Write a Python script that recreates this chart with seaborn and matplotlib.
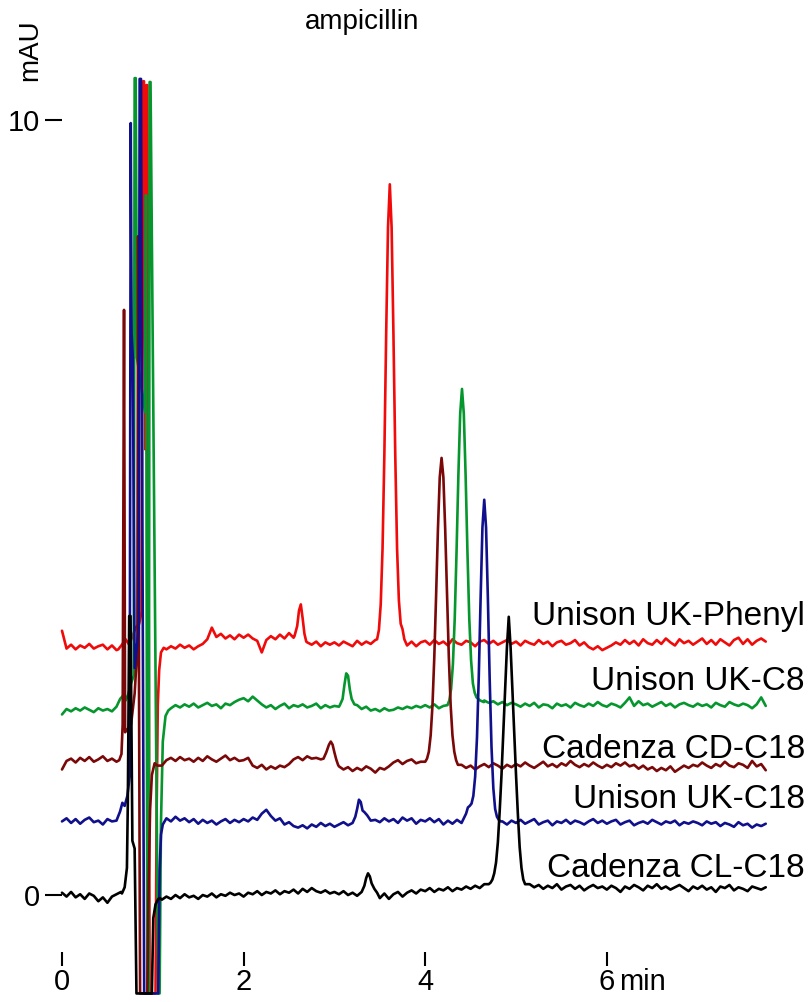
import numpy as np
import pandas as pd
import matplotlib
matplotlib.use("Agg")
import matplotlib.pyplot as plt
import seaborn as sns

# chromatogram sampling (min) - every trace shares this grid
TIME_STEP = 0.05
N_SAMPLES = 156

columns = ["Unison UK-Phenyl", "Unison UK-C8", "Cadenza CD-C18", "Unison UK-C18", "Cadenza CL-C18"]
colors = ["#f00a0a", "#05962d", "#7a0808", "#10108c", "#000000"]
offsets = [3.25, 2.43, 1.70, 0.93, 0.0]   # stacked baseline of each trace, mAU

# baseline readings, hundredths of mAU above the trace offset, one per 0.05 min
noise_phenyl = [
    16, -7, -2, -8, -3, -6, -1, -7, -4, -2, -8, -3, -9, -5, 0, 0, 0, 0, 0, 0,
    0, 0, 0, -8, -4, -7, -2, -6, -3, -8, -4, -1, 5, 20, 8, 12, 6, 10, 5, 11,
    7, 11, 6, 3, -12, 4, 9, 5, 11, 6, 13, 7, 0, 0, 1, -2, 2, -4, 1, -2,
    1, -3, 2, -1, -4, 3, -2, 2, -1, 4, 0, 0, 0, 0, 0, 0, -3, 2, -4, 1,
    3, -2, 4, -1, 2, -3, 5, 0, -2, 3, 1, -4, 2, 4, -1, 3, -2, 1, 4, -1,
    2, -3, 3, 0, -2, 4, -1, 2, -4, 1, 3, -2, 0, 4, -3, 1, -5, -8, -4, -9,
    -6, -3, 1, -2, 4, -1, 3, -3, 5, 0, -2, 4, -1, 6, 1, -3, 5, 0, 3, -2,
    2, 6, -1, 4, -2, 5, 1, -3, 4, 7, -1, 5, -2, 3, 6, 2]
noise_c8 = [
    -10, -3, -6, -2, -5, -1, -4, -7, -2, -5, -3, -6, 0, 0, 0, 0, 0, 0, 0, 0,
    0, 0, 0, 0, -2, 2, -1, 3, 0, 4, -1, 2, 5, 1, 3, -2, 4, 2, 6, 9,
    11, 7, 13, 8, 3, -1, 2, -3, 1, 4, -2, 2, 0, 3, -1, 1, 4, -2, 2, -1,
    1, 0, 0, 0, 0, 2, -3, 0, -5, -3, -6, -2, -5, -4, -1, -3, 0, -2, 1, -1,
    2, -1, 3, -2, 1, 0, 0, 0, 0, 0, 0, 0, 0, 8, 5, 7, 3, 6, 2, 5,
    3, 0, 4, 1, 5, -1, 3, 2, -2, 4, 1, 3, -1, 5, 2, 0, 4, 1, 6, 2,
    0, 4, 2, -1, 5, 12, 1, 7, 2, 4, 0, 3, 6, 1, 4, -1, 3, 5, 2, 0,
    4, 1, 3, -1, 5, 2, 0, 6, 3, 1, 4, 2, -2, 3, 12, 1]
noise_cd_c18 = [
    -8, 3, 6, 1, 7, 3, 8, 2, 5, 9, 3, 6, 2, 0, 0, 0, 0, 0, 0, 0,
    0, 0, -3, 4, 7, 3, 8, 4, 6, 2, 7, 3, 9, 5, 2, 6, 10, 4, 7, 3,
    4, 7, -3, -6, -2, -8, -4, -7, -3, -5, -1, 5, 8, 4, 9, 6, 7, 5, 0, 0,
    0, -4, -8, -5, -10, -6, -9, -4, -7, -12, -6, -8, -4, 1, 4, -1, 3, 5, 0, 2,
    0, 0, 0, 0, 0, 0, 0, 0, -2, -6, -3, -8, -4, -1, -5, 0, -3, -7, -2, -5,
    -1, -4, 1, -3, -6, -2, 2, -4, -1, -5, 0, -3, 3, -2, -5, -1, -4, 1, -3, -6,
    -2, -5, 0, -3, 1, -4, -2, -7, -3, -8, -5, -10, -6, -9, -4, -11, -7, -3, -6, -2,
    -4, 1, -3, -6, -1, -4, 2, -3, -5, 0, -2, -6, 3, -4, -1, -9]
noise_uk_c18 = [
    2, 6, 0, 5, -1, 4, 7, 1, 3, -2, 5, 2, 3, 0, 0, 0, 0, 0, 0, 0,
    0, 0, 0, 6, 2, 8, 3, 6, 1, 5, -1, 4, 0, 3, -2, 2, 5, 0, 4, 1,
    5, 2, 7, 4, 12, 17, 9, 3, 6, -2, 1, -4, -6, -3, -7, -2, -5, 0, -4, -1,
    -5, -2, 1, -3, 0, 0, 0, 0, 0, 4, 1, 6, 2, 5, 0, 7, 3, 6, -1, 4,
    2, 6, 1, 5, -2, 3, -1, 4, 0, 0, 0, 0, 0, 0, 0, 0, 0, 2, -2, 3,
    0, 4, -1, 2, 5, -2, 1, 3, -3, 2, 0, 4, -1, 3, 1, -2, 2, 5, 0, 3,
    -1, 2, 4, -2, 1, 3, -3, 0, 2, -1, 4, 1, -2, 2, 0, 3, -3, 1, -1, 2,
    0, -3, 2, -1, 1, -4, 0, -2, -5, 1, -3, -1, -6, -2, -4, -1]
noise_cl_c18 = [
    3, -2, 4, -3, 1, -5, 2, -1, -8, -3, -10, -2, 1, 4, 0, 0, 0, 0, 0, 0,
    0, 0, -6, -2, -5, 0, -4, 1, -3, -1, -5, 0, -2, 2, -3, 1, -1, 3, 0, 2,
    -2, 3, 1, 5, 0, 4, 2, 6, 1, 5, 3, 7, 2, 8, 4, 9, 5, 3, 6, 2,
    4, 1, 5, 0, 3, -1, 0, 0, 0, 0, -4, 2, -5, 1, 4, -2, 3, 6, 2, 7,
    5, 9, 4, 8, 6, 10, 5, 9, 7, 11, 8, 12, 9, 14, 0, 0, 0, 0, 0, 0,
    0, 0, 0, 14, 10, 13, 8, 12, 9, 14, 7, 11, 13, 8, 12, 6, 10, 13, 9, 11,
    7, 12, 9, 4, 11, 8, 13, 10, 6, 12, 9, 14, 8, 11, 7, 10, 13, 9, 5, 11,
    8, 12, 7, 10, 4, 11, 9, 13, 6, 10, 8, 5, 11, 9, 7, 10]

inj_phenyl = [(0.62, -0.08), (0.66, -0.02), (0.70, 0.05), (0.74, -0.02), (0.78, 0.10),
              (0.81, 0.20), (0.85, 0.25), (0.875, 0.40), (0.893, 7.25), (0.903, 7.25),
              (0.918, 2.5), (0.93, 7.2), (0.94, 7.2), (0.965, -4.52), (1.03, -4.52),
              (1.042, -2.2), (1.055, -0.8), (1.07, -0.35), (1.09, -0.12), (1.12, -0.06)]
small_phenyl = [(2.56, 0.09), (2.59, 0.22), (2.61, 0.42), (2.63, 0.50), (2.65, 0.32),
                (2.67, 0.12), (2.69, 0.02)]
main_phenyl = [(3.47, 0.05), (3.49, 0.17), (3.51, 0.50), (3.53, 1.22), (3.55, 2.43),
               (3.57, 3.99), (3.59, 5.36), (3.61, 5.92), (3.63, 5.36), (3.65, 3.99),
               (3.67, 2.43), (3.69, 1.22), (3.71, 0.55), (3.73, 0.25), (3.75, 0.18),
               (3.77, 0.05)]

inj_c8 = [(0.60, 0.0), (0.64, 0.10), (0.67, 0.14), (0.70, 0.08), (0.73, 0.16),
          (0.76, 0.30), (0.79, 0.40), (0.80, 8.11), (0.812, 8.11), (0.826, 4.5),
          (0.915, 3.8), (0.925, 6.6), (0.94, -3.7), (0.955, -3.7), (0.965, 8.06),
          (0.975, 8.06), (1.06, -3.7), (1.075, -3.7), (1.09, -1.5), (1.11, -0.45),
          (1.14, -0.12), (1.17, -0.05)]
small_c8 = [(3.06, 0.02), (3.09, 0.10), (3.11, 0.28), (3.13, 0.43), (3.15, 0.40),
            (3.17, 0.22), (3.19, 0.10), (3.22, 0.03)]
main_c8 = [(4.245, 0.02), (4.265, 0.08), (4.285, 0.23), (4.305, 0.55), (4.325, 1.14),
           (4.345, 2.0), (4.365, 2.98), (4.385, 3.78), (4.405, 4.10), (4.425, 3.78),
           (4.445, 2.98), (4.465, 2.0), (4.485, 1.14), (4.505, 0.60), (4.525, 0.30),
           (4.545, 0.18), (4.565, 0.12), (4.605, 0.08), (4.645, 0.06)]

inj_cd_c18 = [(0.63, 0.04), (0.655, 0.12), (0.668, 0.5), (0.683, 5.85), (0.695, 0.4),
              (0.76, 0.5), (0.80, 0.9), (0.83, 1.5), (0.838, 6.8), (0.848, 1.0),
              (0.86, -2.97), (0.94, -2.97), (0.955, -1.5), (0.97, -0.6), (0.99, -0.15),
              (1.02, 0.0), (1.05, -0.03)]
small_cd_c18 = [(2.88, 0.06), (2.91, 0.14), (2.94, 0.24), (2.96, 0.28), (2.98, 0.24),
                (3.00, 0.14), (3.02, 0.05), (3.04, -0.02)]
main_cd_c18 = [(4.00, 0.02), (4.02, 0.06), (4.04, 0.15), (4.06, 0.36), (4.08, 0.75),
               (4.10, 1.37), (4.12, 2.17), (4.14, 3.02), (4.16, 3.69), (4.18, 3.94),
               (4.20, 3.69), (4.22, 3.02), (4.24, 2.17), (4.26, 1.37), (4.28, 0.75),
               (4.30, 0.36), (4.32, 0.15), (4.34, 0.04), (4.36, -0.02)]

inj_uk_c18 = [(0.61, 0.06), (0.64, 0.15), (0.665, 0.26), (0.69, 0.22), (0.72, 0.35),
              (0.745, 0.6), (0.757, 9.03), (0.767, 6.3), (0.78, 6.0), (0.80, 2.0),
              (0.845, 2.5), (0.855, 9.6), (0.87, 9.6), (0.885, 4.0), (0.905, -2.2),
              (1.06, -2.2), (1.075, -0.6), (1.09, -0.15), (1.11, -0.02)]
small_uk_c18 = [(3.20, 0.0), (3.23, 0.08), (3.25, 0.18), (3.27, 0.30), (3.29, 0.27),
                (3.31, 0.16), (3.33, 0.14), (3.36, 0.10), (3.40, 0.03)]
main_uk_c18 = [(4.45, 0.12), (4.47, 0.20), (4.49, 0.22), (4.51, 0.25), (4.53, 0.35),
               (4.55, 0.60), (4.57, 1.10), (4.59, 1.90), (4.61, 2.90), (4.63, 3.81),
               (4.65, 4.17), (4.67, 3.81), (4.69, 2.90), (4.71, 1.85), (4.73, 0.98),
               (4.75, 0.45), (4.77, 0.18), (4.79, 0.08), (4.81, 0.04), (4.83, 0.02)]

inj_cl_c18 = [(0.66, 0.02), (0.69, 0.10), (0.715, 0.35), (0.725, 1.2), (0.74, 3.6),
              (0.755, 3.6), (0.775, 0.7), (0.80, 0.6), (0.82, -1.27), (0.99, -1.27),
              (1.005, -0.3), (1.03, -0.12), (1.06, -0.05), (1.08, -0.04)]
small_cl_c18 = [(3.30, 0.04), (3.33, 0.12), (3.35, 0.22), (3.37, 0.28), (3.39, 0.24),
                (3.41, 0.15), (3.44, 0.08), (3.47, 0.03)]
main_cl_c18 = [(4.70, 0.14), (4.72, 0.16), (4.74, 0.20), (4.76, 0.28), (4.78, 0.42),
               (4.80, 0.68), (4.82, 1.08), (4.84, 1.55), (4.86, 2.10), (4.88, 2.65),
               (4.90, 3.20), (4.92, 3.59), (4.94, 3.20), (4.96, 2.65), (4.98, 2.10),
               (5.00, 1.55), (5.02, 1.05), (5.04, 0.62), (5.06, 0.35), (5.08, 0.20),
               (5.10, 0.14)]

noise = [noise_phenyl, noise_c8, noise_cd_c18, noise_uk_c18, noise_cl_c18]
segments = [
    [inj_phenyl, small_phenyl, main_phenyl],
    [inj_c8, small_c8, main_c8],
    [inj_cd_c18, small_cd_c18, main_cd_c18],
    [inj_uk_c18, small_uk_c18, main_uk_c18],
    [inj_cl_c18, small_cl_c18, main_cl_c18],
]

x_ticks = [0, 2, 4, 6]
y_ticks = [0, 10]


def build_trace(readings, offset, segs):
    t = np.arange(N_SAMPLES) * TIME_STEP
    v = np.asarray(readings, dtype=float) * 0.01
    keep = np.ones(len(t), dtype=bool)
    ts, vs = [], []
    for seg in segs:
        st = np.array([p[0] for p in seg])
        sv = np.array([p[1] for p in seg])
        keep &= ~((t >= st.min() - 1e-6) & (t <= st.max() + 1e-6))
        ts.append(st)
        vs.append(sv)
    all_t = np.concatenate([t[keep]] + ts)
    all_v = np.concatenate([v[keep]] + vs) + offset
    order = np.argsort(all_t)
    return pd.DataFrame({"time": all_t[order], "mAU": all_v[order]})


sns.set_style("white")
plt.rcParams['font.family'] = ['Liberation Sans', 'DejaVu Sans']
plt.rcParams['text.color'] = 'black'
plt.rcParams['xtick.color'] = 'black'
plt.rcParams['ytick.color'] = 'black'

fig = plt.figure(figsize=(8.1, 10.02), dpi=100)
# axes: x 0 min at 62 px (90.8 px/min), y 0 mAU at 895 px (77.5 px/mAU)
ax = fig.add_axes([62 / 810, 50 / 1002, 744.6 / 810, 892 / 1002])

for name, col, off, rd, segs in zip(columns, colors, offsets, noise, segments):
    assert len(rd) == N_SAMPLES, name
    df = build_trace(rd, off, segs)
    sns.lineplot(data=df, x="time", y="mAU", estimator=None, sort=False,
                 color=col, linewidth=1.9, ax=ax)
    ax.lines[-1].set_clip_on(False)

label_y = [3.48, 2.645, 1.77, 1.12, 0.23]
for name, ly in zip(columns, label_y):
    ax.text(8.18, ly, name, ha="right", va="baseline", fontsize=24, color="black")

ax.set_xlim(0, 8.2)
ax.set_ylim(-0.735, 10.774)
ax.set_xticks(x_ticks)
ax.set_yticks(y_ticks)
ax.set_xticklabels([str(v) for v in x_ticks])
ax.set_yticklabels([str(v) for v in y_ticks])
ax.tick_params(axis="both", which="major", bottom=True, left=True, direction="out",
               length=10, width=1.5, color="black", labelcolor="black", labelsize=21, pad=1.5)
ax.tick_params(axis="y", length=12.5, pad=3.5)
ax.set_xlabel("")
ax.set_ylabel("")
for s in ax.spines.values():
    s.set_visible(False)

ax.annotate("min", xy=(6.14, 0), xycoords=ax.get_xaxis_transform(),
            xytext=(0, -11.5), textcoords="offset points",
            ha="left", va="top", fontsize=21)

fig.text(30 / 810, 1 - 50 / 1002, "mAU", rotation=90, ha="center", va="center", fontsize=20)
fig.text(362 / 810, 1 - 22 / 1002, "ampicillin", ha="center", va="center", fontsize=20)

fig.savefig("out.png", dpi=100)
